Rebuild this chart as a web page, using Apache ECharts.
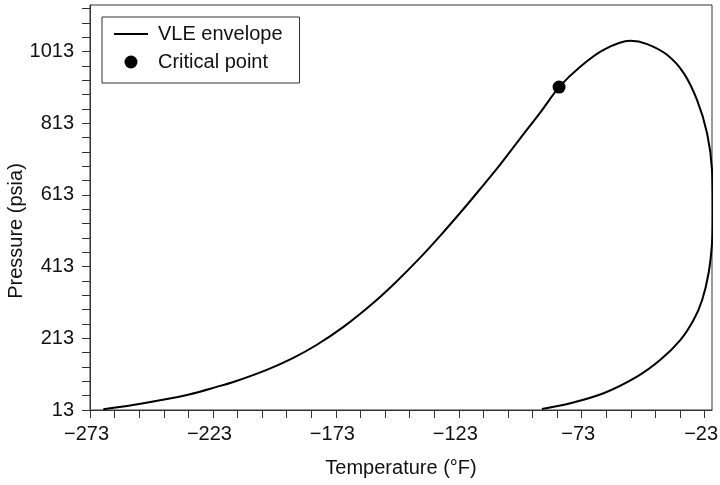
<!DOCTYPE html>
<html>
<head>
<meta charset="utf-8">
<script src="https://cdn.jsdelivr.net/npm/echarts@6/dist/echarts.min.js"></script>
<style>
html,body{margin:0;padding:0;background:#fff;}
#main{width:720px;height:485px;}
</style>
</head>
<body>
<div id="main"></div>
<script>
// VLE envelope (bubble side -> critical -> dew side)
var envelopeTemps = [-267.6, -256.7, -244.5, -232.3, -221.5, -214.7, -201.1, -190.3, -180.7, -169.9,
  -158.3, -148.5, -138.7, -130.5, -121.1, -114.3, -106.1, -98.0, -89.8, -82.2,
  -73.6, -64.1, -53.2, -46.4, -38.3, -31.5, -26.1, -22.0, -20.0, -19.7,
  -20.0, -21.4, -24.0, -27.5, -32.9, -41.0, -50.5, -64.1, -77.6, -89.2];
var envelopePressures = [15, 25.4, 40, 57.1, 77.5, 91.1, 125.1, 158.6, 195.1, 244.8,
  308.6, 370.3, 438, 499.5, 573.8, 629.6, 698.5, 771, 843.5, 914,
  971, 1018, 1043, 1034, 1004, 953, 878, 785, 683, 557,
  478, 394.5, 320, 264, 208, 153, 106, 59.6, 31.7, 15.5];
var criticalTemp = [-82.2];
var criticalPressure = [914];

var xTickLabels = [-273, -223, -173, -123, -73, -23];
var yTickLabels = [13, 213, 413, 613, 813, 1013];

var xMinorStep = 10, yMinorStep = 40;
var xMin = -273, xMax = -20, yMin = 13, yMax = 1143;

var xTicks = [];
for (var v = xMin; v <= xMax; v += xMinorStep) xTicks.push(v);
var yTicks = [];
for (var w = yMin; w <= yMax; w += yMinorStep) yTicks.push(w);

var envelopeData = envelopeTemps.map(function (t, i) { return [t, envelopePressures[i]]; });
var criticalData = criticalTemp.map(function (t, i) { return [t, criticalPressure[i]]; });

var FONT = '"Liberation Sans", Arial, Helvetica, sans-serif';
var AX = '#333';

var chart = echarts.init(document.getElementById('main'), null, {renderer: 'canvas'});
chart.setOption({
  animation: false,
  backgroundColor: '#fff',
  textStyle: {fontFamily: FONT},
  grid: {left: 90, right: 8, top: 5, bottom: 75, containLabel: false, outerBoundsMode: 'none',
    show: true, borderColor: AX, borderWidth: 1, backgroundColor: 'transparent'},
  legend: {
    orient: 'vertical',
    left: 102, top: 17,
    padding: [7, 17, 11, 12],
    itemGap: 8,
    itemWidth: 34, itemHeight: 13,
    borderColor: AX, borderWidth: 1,
    textStyle: {fontFamily: FONT, fontSize: 20, color: '#111', padding: [0, 0, 0, 5]},
    data: [
      {name: 'VLE envelope', icon: 'path://M0,0H34V2H0Z', itemStyle: {color: '#000', opacity: 1}},
      {name: 'Critical point', icon: 'circle', itemStyle: {color: '#000', opacity: 1}}
    ]
  },
  xAxis: {
    type: 'value', min: xMin, max: xMax,
    name: 'Temperature (\u00B0F)', nameLocation: 'middle', nameGap: 48, nameMoveOverlap: false,
    nameTextStyle: {fontFamily: FONT, fontSize: 20, color: '#111'},
    axisLine: {onZero: false, lineStyle: {color: AX, width: 1}},
    axisTick: {show: true, inside: false, length: 8, lineStyle: {color: AX}, customValues: xTicks},
    axisLabel: {customValues: xTickLabels, margin: 14, fontFamily: FONT, fontSize: 20, color: '#111',
      padding: [0, 7, 0, 0],
      formatter: function (val) { return String(val).replace('-', '\u2212'); }},
    splitLine: {show: false}
  },
  yAxis: {
    type: 'value', min: yMin, max: yMax,
    name: 'Pressure (psia)', nameLocation: 'middle', nameGap: 64, nameMoveOverlap: false,
    nameTextStyle: {fontFamily: FONT, fontSize: 20, color: '#111', padding: [0, 47, 0, 0]},
    axisLine: {show: true, onZero: false, lineStyle: {color: AX, width: 1}},
    axisTick: {show: true, inside: false, length: 8, lineStyle: {color: AX}, customValues: yTicks},
    axisLabel: {customValues: yTickLabels, margin: 16, fontFamily: FONT, fontSize: 20, color: '#111',
      formatter: function (val) { return String(val); }},
    splitLine: {show: false}
  },
  series: [
    {
      name: 'VLE envelope', type: 'line', data: envelopeData,
      symbol: 'none', smooth: 0.3, clip: true,
      lineStyle: {color: '#000', width: 2},
      itemStyle: {color: '#000'}
    },
    {
      name: 'Critical point', type: 'scatter', data: criticalData,
      symbol: 'circle', symbolSize: 13,
      itemStyle: {color: '#000', opacity: 1}, z: 5
    }
  ]
});
</script>
</body>
</html>
